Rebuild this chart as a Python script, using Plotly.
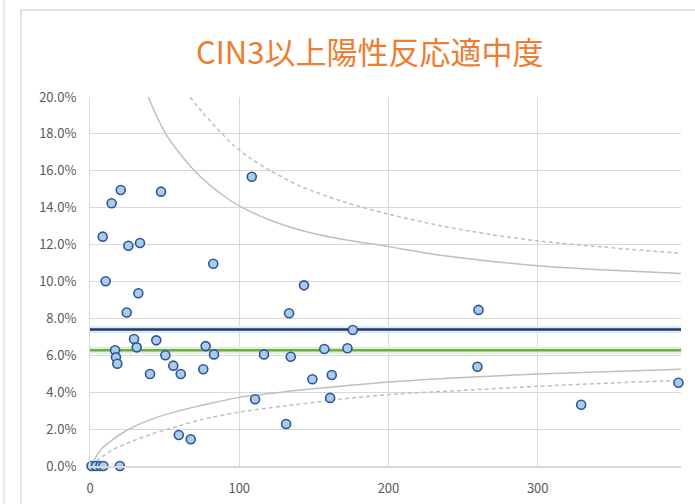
import plotly.graph_objects as go

# ---- data ----
title_text = "CIN3以上陽性反応適中度"

# facilities: number of cases (x) and positive predictive value in % (y)
cases = [1, 4, 7, 9, 20,
         8.5, 14.5, 20.6, 47.6, 108.4, 10.5, 25.7, 33.5, 32.4, 24.6,
         82.6, 143.4, 133.4, 260.3, 176.1, 29.5, 31.3, 16.8, 17.4, 18.3,
         44.4, 50.5, 55.8, 60.8, 40.2, 77.5, 83.1, 75.9, 116.6, 134.5,
         157.0, 172.5, 149.0, 162.0, 160.9, 110.6, 131.4, 59.5, 67.5, 259.6,
         329.1, 394.3]
ppv = [0, 0, 0, 0, 0,
       12.43, 14.24, 14.96, 14.87, 15.68, 10.01, 11.94, 12.09, 9.36, 8.32,
       10.96, 9.79, 8.28, 8.46, 7.37, 6.88, 6.43, 6.27, 5.89, 5.54,
       6.81, 6.00, 5.44, 4.99, 4.99, 6.50, 6.05, 5.24, 6.05, 5.92,
       6.34, 6.38, 4.70, 4.93, 3.69, 3.62, 2.28, 1.68, 1.45, 5.38,
       3.32, 4.51]

# reference lines (%)
target_rate = 7.4
mean_rate = 6.27
line_n = [0, 396]

# control limits
upper95_n = [39, 45, 50, 60, 70, 80, 90, 100, 120, 145, 170, 200, 235, 268, 300, 346, 396]
upper95_y = [20.0, 18.9, 18.1, 16.95, 16.0, 15.25, 14.62, 14.1, 13.35, 12.7, 12.28, 11.89, 11.42, 11.1, 10.86, 10.63, 10.44]
upper99_n = [67, 75, 85, 96, 107, 120, 140, 170, 200, 235, 268, 300, 346, 396]
upper99_y = [20.0, 19.2, 18.3, 17.4, 16.7, 16.05, 15.2, 14.32, 13.65, 13.02, 12.55, 12.2, 11.85, 11.53]
lower95_n = [1, 4, 8, 15, 25, 40, 60, 80, 100, 130, 168, 200, 250, 300, 350, 396]
lower95_y = [0, 0.5, 0.95, 1.42, 1.95, 2.5, 3.0, 3.38, 3.72, 4.02, 4.32, 4.55, 4.8, 4.98, 5.12, 5.24]
lower99_n = [1, 4, 8, 15, 27, 42, 60, 74, 100, 130, 168, 200, 250, 300, 350, 396]
lower99_y = [0, 0.22, 0.5, 0.87, 1.3, 1.75, 2.18, 2.5, 2.92, 3.25, 3.62, 3.87, 4.1, 4.32, 4.5, 4.64]

x_ticks = [0, 100, 200, 300]
y_ticks = [0, 2, 4, 6, 8, 10, 12, 14, 16, 18, 20]

fig = go.Figure()

limit_color = "#BFBFBF"
for xs, ys, dash in [(upper95_n, upper95_y, "solid"), (lower95_n, lower95_y, "solid"),
                     (upper99_n, upper99_y, "4px,3px"), (lower99_n, lower99_y, "4px,3px")]:
    fig.add_trace(go.Scatter(x=xs, y=ys, mode="lines",
                             line=dict(color=limit_color, width=1.5, dash=dash, shape="spline", smoothing=0.8),
                             hoverinfo="skip", showlegend=False))

# glow + horizontal lines
fig.add_trace(go.Scatter(x=line_n, y=[mean_rate] * 2, mode="lines",
                         line=dict(color="#E2EFDA", width=7), showlegend=False, hoverinfo="skip"))
fig.add_trace(go.Scatter(x=line_n, y=[mean_rate] * 2, mode="lines",
                         line=dict(color="#70AD47", width=2.5), showlegend=False))
fig.add_trace(go.Scatter(x=line_n, y=[target_rate] * 2, mode="lines",
                         line=dict(color="#DDEBF7", width=7), showlegend=False, hoverinfo="skip"))
fig.add_trace(go.Scatter(x=line_n, y=[target_rate] * 2, mode="lines",
                         line=dict(color="#1F3864", width=2.5), showlegend=False))

fig.add_trace(go.Scatter(x=cases, y=ppv, mode="markers", cliponaxis=False,
                         marker=dict(size=9, color="#AACCEB",
                                     line=dict(color="#2F5597", width=1.6)),
                         showlegend=False))

# card frame
grey = "#D9D9D9"
W, H = 591, 369
def px(xp):
    return (xp - 90) / W
def py(yp):
    return (466 - yp) / H
fig.add_shape(type="rect", xref="paper", yref="paper",
              x0=px(21), x1=px(700), y0=py(510), y1=py(10),
              line=dict(color=grey, width=1.5), layer="below")
fig.add_shape(type="line", xref="paper", yref="paper",
              x0=px(4), x1=px(4), y0=py(510), y1=py(-5),
              line=dict(color="#E3E3E3", width=1.5), layer="below")

fig.add_annotation(text=title_text, xref="paper", yref="paper",
                   x=px(369), y=py(50), xanchor="center", yanchor="middle",
                   showarrow=False,
                   font=dict(family="Noto Sans CJK JP", size=31, color="#ED7D31"))

fig.update_layout(
    width=695, height=504,
    margin=dict(l=90, r=14, t=97, b=38),
    paper_bgcolor="white", plot_bgcolor="white",
    font=dict(family="Noto Sans CJK JP, Noto Sans", color="#595959"),
)
fig.update_xaxes(range=[0, 396], tickvals=x_ticks, ticktext=[str(v) for v in x_ticks],
                 showgrid=True, gridcolor=grey, gridwidth=1,
                 showline=True, linecolor=grey, linewidth=1.5,
                 zeroline=False, ticks="", tickfont=dict(size=13, color="#595959"),
                 ticklabelstandoff=10, automargin=False)
fig.update_yaxes(range=[0, 20], tickvals=y_ticks, ticktext=[f"{v:.1f}%" for v in y_ticks],
                 showgrid=True, gridcolor=grey, gridwidth=1,
                 showline=True, linecolor=grey, linewidth=1,
                 zeroline=False, ticks="", tickfont=dict(size=13, color="#595959"),
                 ticklabelstandoff=10, automargin=False)

fig.write_html("out.html", config={"displayModeBar": False},
               post_script="document.body.style.margin='0';")
